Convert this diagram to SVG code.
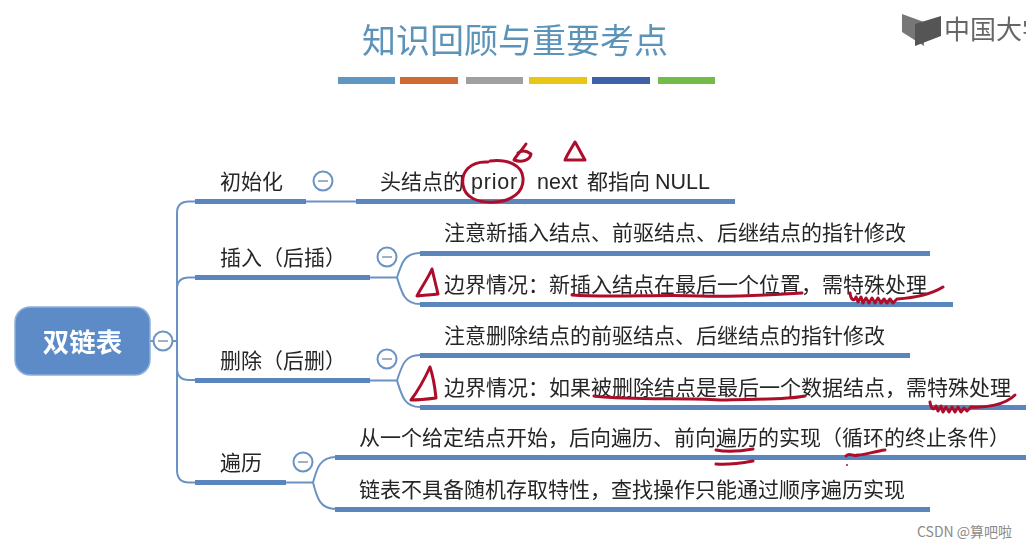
<svg xmlns="http://www.w3.org/2000/svg" width="1026" height="548" viewBox="0 0 1026 548">
<style>
text{font-family:"Noto Sans CJK SC","Noto Sans",sans-serif;fill:#262626;font-size:21px}
.lat{font-family:"Liberation Sans",Arial,sans-serif;font-size:21.5px}
.bar{fill:#5a86bd}
.thin{fill:none;stroke:#6a93c4;stroke-width:2}
.tog{fill:#fff;stroke:#6a93c4;stroke-width:2}
.minus{stroke:#8a9cb4;stroke-width:1.6}
.ink{fill:none;stroke:#ac0f2a;stroke-width:3;stroke-linecap:round;stroke-linejoin:round}
.t{fill:#5c93b9;font-size:34px}
</style>
<defs>
<filter id="soft" x="-5%" y="-5%" width="110%" height="110%"><feGaussianBlur stdDeviation="0.45"/></filter>
</defs>
<rect width="1026" height="548" fill="#fff"/>
<g id="slide" filter="url(#soft)">
<g id="title">
<text class="t" x="362" y="53">知识回顾与重要考点</text>
<rect x="338" y="77" width="57" height="7" fill="#5f97c3"/>
<rect x="400" y="77" width="58" height="7" fill="#cf6a35"/>
<rect x="466" y="77" width="57" height="7" fill="#a0a0a0"/>
<rect x="529" y="77" width="58" height="7" fill="#e9c517"/>
<rect x="592" y="77" width="58" height="7" fill="#3e60a8"/>
<rect x="658" y="77" width="57" height="7" fill="#70bd4a"/>
</g>
<g id="logo">
<polygon points="902,14 924,22 924,46 902,32" fill="#777"/>
<polygon points="915,24 941,16 941,36 915,46" fill="#555"/>
<text x="944" y="39" style="font-size:26px;fill:#666">中国大学</text>
</g>
<g id="connectors">
<path class="thin" d="M150,341H177M177,341V213Q177,201.500 189,201.500H196M177,289Q177,277.500 189,277.500H196M177,368Q177,380 189,380H196M177,341V470Q177,482.500 189,482.500H196"/>
<path class="thin" d="M306,201.500H357"/>
<path class="thin" d="M370,277.500H397M420,253C405,253 402,262 397,277.500C402,294 405,304 420,304"/>
<path class="thin" d="M370,380.500H397M420,355C405,355 402,365 397,380.500C402,397 405,407 420,407"/>
<path class="thin" d="M286,482.500H313M336,457C320,457 317,468 313,482.500C317,498 320,509 336,509"/>
</g>
<g id="root">
<rect x="15" y="307" width="135" height="68" rx="15" fill="#5b8bc8" stroke="#8fb0d8" stroke-width="1.500"/>
<text x="82.500" y="352" text-anchor="middle" style="font-size:26.500px;font-weight:700;fill:#fff">双链表</text>
<circle class="tog" cx="163" cy="341" r="9.500"/><path class="minus" d="M158,341H168"/>
</g>
<g id="node-init">
<text x="220" y="189">初始化</text>
<rect class="bar" x="195" y="199" width="111" height="5"/>
<circle class="tog" cx="323" cy="181" r="9.500"/><path class="minus" d="M318,181H328"/>
</g>
<g id="node-init-1">
<text x="380" y="189">头结点的</text>
<text class="lat" x="471" y="188.500" letter-spacing="0.800">prior</text>
<text class="lat" x="537" y="188.500">next</text>
<text x="587" y="189">都指向</text>
<text class="lat" x="655" y="188.500">NULL</text>
<rect class="bar" x="356" y="199" width="379" height="5"/>
</g>
<g id="node-insert">
<text x="220" y="265">插入（后插）</text>
<rect class="bar" x="195" y="275" width="175" height="5"/>
<circle class="tog" cx="387" cy="257" r="9.500"/><path class="minus" d="M382,257H392"/>
</g>
<g id="node-insert-1">
<text x="444" y="240">注意新插入结点、前驱结点、后继结点的指针修改</text>
<rect class="bar" x="420" y="251" width="510" height="5"/>
</g>
<g id="node-insert-2">
<text x="444" y="292">边界情况：新插入结点在最后一个位置，需特殊处理</text>
<rect class="bar" x="420" y="302" width="533" height="5"/>
</g>
<g id="node-delete">
<text x="220" y="368">删除（后删）</text>
<rect class="bar" x="195" y="378" width="175" height="5"/>
<circle class="tog" cx="387" cy="359" r="9.500"/><path class="minus" d="M382,359H392"/>
</g>
<g id="node-delete-1">
<text x="444" y="343">注意删除结点的前驱结点、后继结点的指针修改</text>
<rect class="bar" x="420" y="353" width="490" height="5"/>
</g>
<g id="node-delete-2">
<text x="444" y="395">边界情况：如果被删除结点是最后一个数据结点，需特殊处理</text>
<rect class="bar" x="420" y="405" width="606" height="5"/>
</g>
<g id="node-traverse">
<text x="220" y="470">遍历</text>
<rect class="bar" x="195" y="480" width="91" height="5"/>
<circle class="tog" cx="303" cy="462" r="9.500"/><path class="minus" d="M298,462H308"/>
</g>
<g id="node-traverse-1">
<text x="359" y="445">从一个给定结点开始，后向遍历、前向遍历的实现（循环的终止条件）</text>
<rect class="bar" x="335" y="455" width="691" height="5"/>
</g>
<g id="node-traverse-2">
<text x="359" y="497">链表不具备随机存取特性，查找操作只能通过顺序遍历实现</text>
<rect class="bar" x="335" y="507" width="595" height="5"/>
</g>
<g id="ink">
<path class="ink" d="M488,162C470,161 461,172 463,185C465,198 478,203 495,202C512,201 524,192 523,178C522,165 508,159 490,161"/>
<path class="ink" d="M526,144C522,150 516,156 514,160C522,163 530,160 531,154C527,151 522,150 518,153"/>
<path class="ink" d="M575,142C571,149 567,155 565,160H585C581,153 578,147 575,142Z"/>
<path class="ink" d="M432,269C427,280 421,288 417,296C425,295 432,295 438,294C436,286 434,277 432,269Z"/>
<path class="ink" d="M572,295C610,298 660,294 700,296C735,297 770,295 802,293"/>
<path class="ink" d="M850,293C851,300 854,302 856,297L858,302L861,297L863,303L866,298L869,303L872,298L875,303L878,298L881,303L884,299L887,303L890,299L893,303L897,299C912,298 930,295 943,287"/>
<path class="ink" d="M430,367C425,378 420,388 411,400C420,400 428,399 436,398C435,388 433,376 430,367Z"/>
<path class="ink" d="M594,396C640,401 680,397 720,400C755,399 785,400 805,396"/>
<path class="ink" d="M930,402C931,409 934,411 936,406L938,411L941,406L943,412L946,407L949,412L952,407L955,412L958,407L961,412L964,408L967,411L971,407C985,408 1005,405 1015,395"/>
<path class="ink" d="M716,450C726,452 742,451 753,449M716,464C728,465 742,463 753,461"/>
<path class="ink" d="M846,456C850,452 852,457 858,455C866,455 875,451 885,450"/>
<circle cx="847" cy="465" r="1" fill="#ac0f2a"/>
</g>
</g>
<text x="917" y="537" style="font-size:14px;fill:#8a8a8a">CSDN @算吧啦</text>
</svg>
